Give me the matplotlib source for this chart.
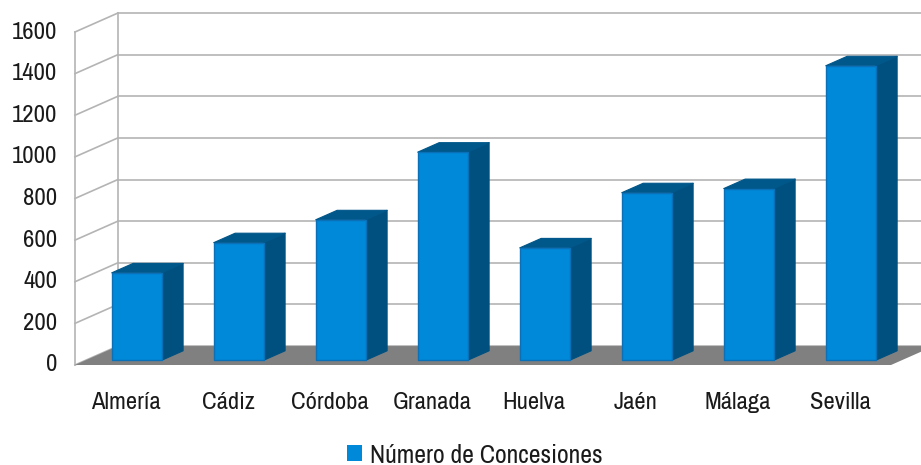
import matplotlib
matplotlib.use("Agg")
import matplotlib.pyplot as plt
from matplotlib.patches import Polygon, Patch
from matplotlib import font_manager

# ---------------- data ----------------
categories = ["Almería", "Cádiz", "Córdoba", "Granada", "Huelva", "Jaén", "Málaga", "Sevilla"]
values = [420, 565, 675, 1000, 540, 805, 825, 1415]
y_ticks = [0, 200, 400, 600, 800, 1000, 1200, 1400, 1600]
series_name = "Número de Concesiones"

# ---------------- style ----------------
avail = {f.name for f in font_manager.fontManager.ttflist}
candidates = ["Liberation Sans Narrow", "Archivo Narrow", "Roboto Condensed",
              "Barlow Semi Condensed", "Liberation Sans", "DejaVu Sans"]
fam = [f for f in candidates if f in avail]
plt.rcParams["font.family"] = fam[:1] + ["DejaVu Sans"]
narrow = fam[0] not in ("Liberation Sans", "DejaVu Sans")
FS = 17.8 if narrow else 14.8
LFS = FS * 1.04

FRONT = "#0088d9"
SIDE = "#00507f"
TOP = "#00578a"
EDGE = "#0a70b8"
GRID = "#b4b4b4"
FLOOR = "#808080"
TXT = "#1a1a1a"

DEPTH_X = 0.42   # oblique depth offset in category units
DEPTH_Y = 91.0   # oblique depth offset in value units
BAR_HALF = 0.245
BAR_F0, BAR_F1 = 0.25, 0.75


def proj(x, v, f):
    return (x + f * DEPTH_X, v + f * DEPTH_Y)


fig = plt.figure(figsize=(9.21, 4.65), dpi=100)
ax = fig.add_axes([0, 0, 1, 1])
ax.set_xlim(-1.235, 7.794)
ax.set_ylim(-480.5, 1753.8)
ax.axis("off")

n = len(categories)
xl, xr = -0.5, n - 0.5
ymax = y_ticks[-1]

# back wall & side wall grid
for t in y_ticks:
    p0, p1 = proj(xl, t, 1), proj(xr, t, 1)
    ax.plot([p0[0], p1[0]], [p0[1], p1[1]], color=GRID, lw=1.2, zorder=1)
    q0, q1 = proj(xl, t, 0), proj(xl, t, 1)
    ax.plot([q0[0], q1[0]], [q0[1], q1[1]], color=GRID, lw=1.2, zorder=1)
for f in (0, 1):
    a, b = proj(xl, 0, f), proj(xl, ymax, f)
    ax.plot([a[0], b[0]], [a[1], b[1]], color=GRID, lw=1.2, zorder=1)

# floor
floor = Polygon([proj(xl, 0, 0), proj(xr, 0, 0), proj(xr, 0, 1), proj(xl, 0, 1)],
                closed=True, facecolor=FLOOR, edgecolor="none", zorder=2)
ax.add_patch(floor)

# bars
for i, v in enumerate(values):
    x0, x1 = i - BAR_HALF, i + BAR_HALF
    side = [proj(x1, 0, BAR_F0), proj(x1, 0, BAR_F1), proj(x1, v, BAR_F1), proj(x1, v, BAR_F0)]
    top = [proj(x0, v, BAR_F0), proj(x1, v, BAR_F0), proj(x1, v, BAR_F1), proj(x0, v, BAR_F1)]
    front = [proj(x0, 0, BAR_F0), proj(x1, 0, BAR_F0), proj(x1, v, BAR_F0), proj(x0, v, BAR_F0)]
    ax.add_patch(Polygon(side, closed=True, facecolor=SIDE, edgecolor=SIDE, lw=0.8, zorder=3,
                         joinstyle="round"))
    ax.add_patch(Polygon(top, closed=True, facecolor=TOP, edgecolor=TOP, lw=0.8, zorder=3,
                         joinstyle="round"))
    ax.add_patch(Polygon(front, closed=True, facecolor=FRONT, edgecolor=EDGE, lw=1.0, zorder=4,
                         joinstyle="round"))

# y tick labels
for t in y_ticks:
    ax.text(-0.676, t, str(t), ha="right", va="center", fontsize=FS, color=TXT)

# category labels
for i, c in enumerate(categories):
    ax.text(i, -178, c, ha="center", va="center", fontsize=FS, color=TXT)

# legend
fig.legend(handles=[Patch(facecolor=FRONT, edgecolor="none", label=series_name)],
           loc="center", bbox_to_anchor=(475 / 921, 1 - 455 / 465), frameon=False,
           fontsize=LFS, handlelength=0.62 * 17.5 / LFS, handleheight=0.62 * 17.5 / LFS,
           handletextpad=0.35 * 17.5 / LFS, borderpad=0, borderaxespad=0,
           labelcolor=TXT)

fig.savefig("out.png", dpi=100)
